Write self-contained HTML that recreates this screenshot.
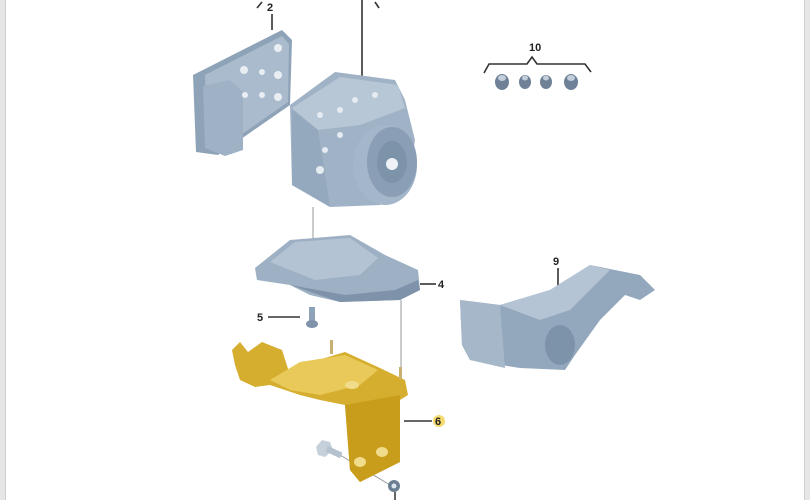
<!DOCTYPE html>
<html><head><meta charset="utf-8"><style>
html,body{margin:0;padding:0;background:#fff;width:810px;height:500px;overflow:hidden}
svg{display:block}
text{font-family:"Liberation Sans",sans-serif;font-size:11px;font-weight:bold;fill:#222}
</style></head><body>
<svg width="810" height="500" viewBox="0 0 810 500" xmlns="http://www.w3.org/2000/svg">
<rect x="0" y="0" width="6" height="500" fill="#e6e6e6"/>
<rect x="5" y="0" width="1" height="500" fill="#cfcfcf"/>
<rect x="804" y="0" width="6" height="500" fill="#e6e6e6"/>
<rect x="804" y="0" width="1" height="500" fill="#cfcfcf"/>

<g stroke="#333" stroke-width="1.6" fill="none">
<path d="M257 8 L262 2"/><path d="M272 14 L272 30"/>
<path d="M362 0 L362 78"/><path d="M375 2 L379 8"/>
<path d="M484 73 L489 64 L527 64 L532 57 L537 64 L585 64 L591 72"/>
<path d="M558 268 L558 290"/>
<path d="M420 284 L436 284"/>
<path d="M268 317 L300 317"/>
<path d="M404 421 L432 421"/>
</g>
<text x="267" y="11">2</text>
<text x="529" y="51">10</text>
<text x="553" y="265">9</text>
<text x="438" y="288">4</text>
<text x="257" y="321">5</text>
<circle cx="439" cy="421" r="6" fill="#f3d24a" opacity="0.8"/>
<text x="435" y="425">6</text>

<!-- part 2 -->
<polygon points="193,75 282,30 292,40 290,105 218,155 196,152" fill="#8fa3b8"/>
<polygon points="205,75 282,36 289,44 288,102 222,148 207,142" fill="#a9bbcd"/>
<polygon points="203,86 230,80 243,92 243,150 225,156 205,148" fill="#9eb1c5"/>
<g fill="#e9eef3"><circle cx="278" cy="48" r="4"/><circle cx="262" cy="72" r="3"/><circle cx="278" cy="75" r="4"/><circle cx="262" cy="95" r="3"/><circle cx="278" cy="97" r="4"/><circle cx="244" cy="70" r="4"/><circle cx="245" cy="95" r="3"/></g>

<!-- part 1 -->
<polygon points="290,105 335,72 395,80 405,100 415,140 410,175 380,205 330,207 292,185" fill="#9fb2c6"/>
<polygon points="292,108 340,77 398,85 405,108 360,125 318,130" fill="#b8c7d6"/>
<polygon points="292,110 318,130 330,207 292,185" fill="#95a9be"/>
<ellipse cx="385" cy="165" rx="32" ry="40" fill="#a4b6c9"/>
<ellipse cx="392" cy="162" rx="25" ry="35" fill="#8a9fb5"/>
<ellipse cx="392" cy="162" rx="15" ry="21" fill="#7d93aa"/>
<circle cx="392" cy="164" r="6" fill="#eef2f6"/>
<g fill="#e5ebf1"><circle cx="320" cy="115" r="3"/><circle cx="340" cy="110" r="3"/><circle cx="355" cy="100" r="3"/><circle cx="325" cy="150" r="3"/><circle cx="320" cy="170" r="4"/><circle cx="340" cy="135" r="3"/><circle cx="375" cy="95" r="3"/></g>

<g stroke="#999" stroke-width="1"><path d="M313 207 L313 270"/><path d="M401 300 L401 375"/><path d="M340 455 L390 485"/></g>

<!-- part 4 -->
<polygon points="255,268 290,240 350,235 385,255 418,270 420,290 400,300 340,302 310,295 290,285 257,280" fill="#9db0c4"/>
<polygon points="270,262 295,242 350,238 378,258 360,275 315,280" fill="#b3c3d3"/>
<polygon points="290,285 340,302 400,300 420,290 418,280 395,290 345,295" fill="#7e93aa"/>

<rect x="309" y="307" width="6" height="14" fill="#8ea3b8"/>
<ellipse cx="312" cy="324" rx="6" ry="4" fill="#7f94aa"/>

<!-- part 6 -->
<polygon points="232,350 240,342 248,352 262,342 282,350 290,375 318,360 345,352 380,368 405,380 408,395 400,400 400,462 360,482 350,470 345,405 320,400 300,395 270,385 255,387 240,380 235,365" fill="#d6ae2f"/>
<polygon points="270,380 300,362 345,355 378,370 360,385 320,395 290,390" fill="#e9c95a"/>
<polygon points="345,405 400,395 400,462 360,482 350,470" fill="#c99d1c"/>
<g fill="#f1dc8c"><ellipse cx="382" cy="452" rx="6" ry="5"/><ellipse cx="360" cy="462" rx="6" ry="5"/><ellipse cx="352" cy="385" rx="7" ry="4"/></g>
<g fill="#c8b070"><rect x="330" y="340" width="3" height="14"/><rect x="399" y="367" width="3" height="12"/></g>
<polygon points="316,447 322,440 330,442 333,450 325,457 318,455" fill="#c6d0da"/>
<rect x="328" y="446" width="16" height="6" fill="#b4c1ce" transform="rotate(25 328 446)"/>
<circle cx="394" cy="486" r="6" fill="#6c7f92"/><circle cx="394" cy="486" r="2.5" fill="#dfe6ec"/>
<path d="M395 492 L395 500" stroke="#333" stroke-width="1.5"/>

<!-- part 9 -->
<polygon points="460,300 500,305 550,290 590,265 640,275 655,290 640,300 625,295 600,320 575,355 565,370 520,368 470,360 462,345" fill="#93a8bd"/>
<polygon points="500,305 550,290 590,265 610,270 570,310 540,320" fill="#b4c4d4"/>
<polygon points="460,300 500,305 505,368 470,360 462,345" fill="#a5b7c9"/>
<ellipse cx="560" cy="345" rx="15" ry="20" fill="#7d93aa"/>

<!-- part 10 -->
<g fill="#6e8196"><ellipse cx="502" cy="82" rx="7" ry="8"/><ellipse cx="525" cy="82" rx="6" ry="7"/><ellipse cx="546" cy="82" rx="6" ry="7"/><ellipse cx="571" cy="82" rx="7" ry="8"/></g>
<g fill="#c3ceda"><ellipse cx="502" cy="78" rx="4" ry="3"/><ellipse cx="525" cy="78" rx="3" ry="2.5"/><ellipse cx="546" cy="78" rx="3" ry="2.5"/><ellipse cx="571" cy="78" rx="4" ry="3"/></g>
</svg>
</body></html>
